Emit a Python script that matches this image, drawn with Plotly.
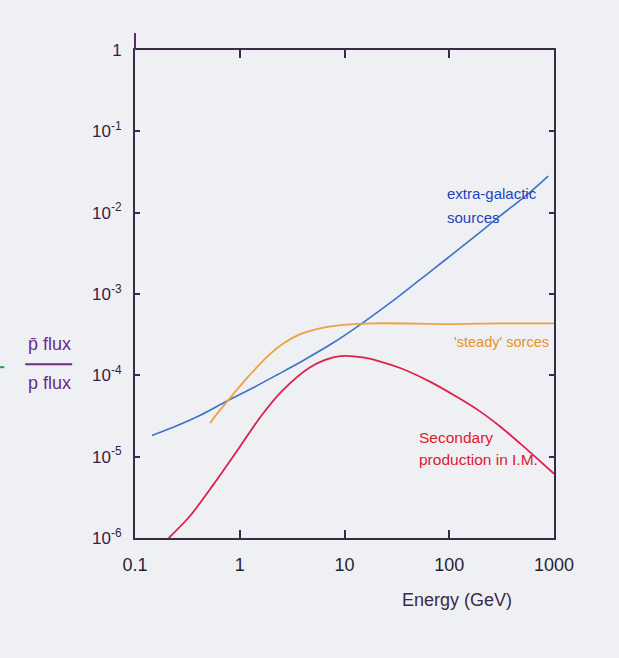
import plotly.graph_objects as go

# Data (log10 of flux ratio)
blue_E = [0.145, 0.25, 0.42, 0.77, 1.4, 2.3, 4.0, 7.8, 14.7, 30, 65, 126, 300, 600, 880]
blue_logy = [-4.74, -4.62, -4.49, -4.31, -4.14, -3.99, -3.82, -3.60, -3.36, -3.07, -2.73, -2.44, -2.05, -1.74, -1.55]

orange_E = [0.52, 0.6, 0.77, 1.2, 1.8, 2.6, 3.7, 6, 9.7, 20, 100, 300, 1000]
orange_logy = [-4.59, -4.48, -4.31, -4.02, -3.78, -3.61, -3.50, -3.42, -3.38, -3.36, -3.37, -3.36, -3.36]

red_E = [0.21, 0.335, 0.555, 1.0, 1.6, 2.5, 4.7, 7.8, 10, 15, 22, 34, 66, 120, 195, 300, 477, 700, 1000]
red_logy = [-6.0, -5.73, -5.35, -4.88, -4.5, -4.2, -3.9, -3.78, -3.76, -3.78, -3.83, -3.91, -4.08, -4.27, -4.44, -4.62, -4.84, -5.03, -5.21]

x_ticks = [0.1, 1, 10, 100, 1000]
x_labels = ["0.1", "1", "10", "100", "1000"]
y_ticks = [1e-6, 1e-5, 1e-4, 1e-3, 1e-2, 1e-1, 1]
y_labels = ["10<sup>-6</sup>", "10<sup>-5</sup>", "10<sup>-4</sup>", "10<sup>-3</sup>",
            "10<sup>-2</sup>", "10<sup>-1</sup>", "1"]

def pw(v):
    return [10 ** a for a in v]

BG = "#eff0f4"
AX = "#3b2a46"
FONT = "Liberation Sans"

fig = go.Figure()
fig.add_trace(go.Scatter(x=blue_E, y=pw(blue_logy), mode="lines",
                         line=dict(color="#3d72c9", width=1.6, shape="spline", smoothing=0.8), showlegend=False))
fig.add_trace(go.Scatter(x=orange_E, y=pw(orange_logy), mode="lines",
                         line=dict(color="#f0a040", width=1.8, shape="spline", smoothing=0.8), showlegend=False))
fig.add_trace(go.Scatter(x=red_E, y=pw(red_logy), mode="lines",
                         line=dict(color="#e0204a", width=1.8, shape="spline", smoothing=0.8), showlegend=False))

fig.update_layout(
    width=619, height=658,
    margin=dict(l=135, r=65, t=50, b=120),
    paper_bgcolor=BG, plot_bgcolor=BG,
    font=dict(family=FONT, color="#2a1f33"),
    xaxis=dict(type="log", range=[-1, 3], tickvals=x_ticks, ticktext=x_labels,
               showgrid=False, zeroline=False, showline=True, linecolor=AX, linewidth=2,
               mirror="ticks", ticks="inside", ticklen=8, tickcolor=AX, tickwidth=1.5,
               tickfont=dict(size=18, color="#2a1f33"), ticklabelstandoff=9),
    yaxis=dict(type="log", range=[-6, 0], tickvals=y_ticks, ticktext=y_labels,
               showgrid=False, zeroline=False, showline=True, linecolor=AX, linewidth=2,
               mirror="ticks", ticks="inside", ticklen=5, tickcolor=AX, tickwidth=2,
               tickfont=dict(size=17, color="#3a2040"), ticklabelstandoff=8),
)

# axis title and y label
fig.add_annotation(text="Energy (GeV)", x=0.768, y=-0.127, xref="paper", yref="paper",
                   xanchor="center", yanchor="middle",
                   showarrow=False, font=dict(size=18, color="#3a2a4a"))
fig.add_annotation(text="p\u0304 flux", x=-0.205, y=0.397, xref="paper", yref="paper",
                   xanchor="center", yanchor="middle",
                   showarrow=False, font=dict(size=18, color="#6a2a8a"))
fig.add_annotation(text="p flux", x=-0.205, y=0.318, xref="paper", yref="paper",
                   xanchor="center", yanchor="middle",
                   showarrow=False, font=dict(size=18, color="#6a2a8a"))
fig.add_shape(type="line", xref="paper", yref="paper", x0=-0.262, x1=-0.150, y0=0.356, y1=0.356,
              line=dict(color="#6a2a8a", width=2))
fig.add_shape(type="line", xref="paper", yref="paper", x0=-0.322, x1=-0.312, y0=0.350, y1=0.350,
              line=dict(color="#2a9a3a", width=2))
# left axis extends above the frame
fig.add_shape(type="line", xref="paper", yref="paper", x0=0, x1=0, y0=1, y1=1.035,
              line=dict(color="#5a2a6a", width=2))

# curve labels
fig.add_annotation(text="extra-galactic", x=0.74, y=0.727, xref="paper", yref="paper",
                   xanchor="left", showarrow=False, font=dict(size=15, color="#2244bb"))
fig.add_annotation(text="sources", x=0.74, y=0.678, xref="paper", yref="paper",
                   xanchor="left", showarrow=False, font=dict(size=15, color="#2244bb"))
fig.add_annotation(text="'steady' sorces", x=0.993, y=0.402, xref="paper", yref="paper",
                   xanchor="right", showarrow=False, font=dict(size=14.5, color="#e8902a"))
fig.add_annotation(text="Secondary", x=0.673, y=0.184, xref="paper", yref="paper",
                   xanchor="left", showarrow=False, font=dict(size=15.5, color="#e0182e"))
fig.add_annotation(text="production in I.M.", x=0.673, y=0.139, xref="paper", yref="paper",
                   xanchor="left", showarrow=False, font=dict(size=15.5, color="#e0182e"))

fig.write_html("out.html")
